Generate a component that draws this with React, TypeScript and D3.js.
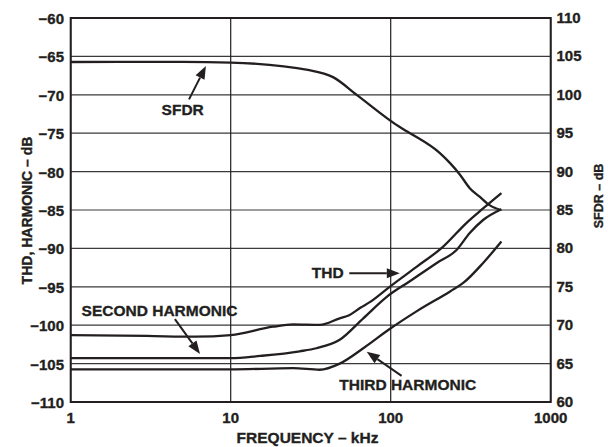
import React, { useEffect, useRef } from 'react';
import * as d3 from 'd3';

// frequency (kHz) vs dB
const thd: [number, number][] = [
  [1, -101.3], [3, -101.4], [6, -101.5], [10, -101.3], [18.4, -100.2], [24.5, -99.9],
  [36, -99.97], [48, -99.1], [55, -98.7], [65, -97.7], [74, -97.0], [98.5, -95.0],
  [145, -92.4], [212, -89.8], [297, -86.7], [378, -84.8], [492, -82.8],
];
const secondHarmonic: [number, number][] = [
  [1, -104.3], [10, -104.3], [15.3, -104.0], [27, -103.4], [34.3, -103.0], [48, -101.9],
  [67.4, -99.1], [94.5, -96.3], [131, -94.3], [194, -91.9], [258, -90.2], [312, -88.0],
  [378, -86.3], [492, -84.9],
];
const thirdHarmonic: [number, number][] = [
  [1, -105.75], [10, -105.75], [24.5, -105.6], [36, -105.8], [48, -105.0], [67.4, -103.0],
  [98.5, -100.5], [145, -98.2], [235, -95.6], [284, -94.5], [378, -91.9], [492, -89.1],
];
// SFDR is read on the right axis
const sfdr: [number, number][] = [
  [1, 104.27], [5, 104.3], [10, 104.2], [31, 103.2], [43.6, 102.3], [61.3, 100.0],
  [114, 95.8], [132, 95.0], [203, 92.4], [235, 91.1], [271, 89.6], [313, 87.8],
  [361, 86.7], [417, 85.6], [490, 85.0],
];

const xTicks = [1, 10, 100, 1000];
const leftTicks = d3.range(-110, -59, 5);
const rightTicks = d3.range(60, 111, 5);

// annotation labels: text, anchor point (kHz, dB left axis), arrow from/to
const labels = [
  { text: 'SFDR', at: [3.7, -72.6], from: [5.49, -70.6], to: [7.0, -66.25] },
  { text: 'SECOND HARMONIC', at: [1.17, -98.8], from: [4.48, -99.2], to: [6.43, -103.75] },
  { text: 'THD', at: [32.1, -93.9], from: [55.1, -93.24], to: [114, -93.24] },
  { text: 'THIRD HARMONIC', at: [47.7, -108.5], from: [117, -106.6], to: [70.8, -103.45] },
];

const FONT = '"Liberation Sans", Arial, Helvetica, sans-serif';
const INK = '#231f20';

export default function App() {
  const svgRef = useRef<SVGSVGElement>(null);

  useEffect(() => {
    if (!svgRef.current) return;
    const svg = d3.select(svgRef.current);
    svg.selectAll('*').remove();

    const x = d3.scaleLog().domain([1, 1000]).range([70.7, 550.7]);
    const yL = d3.scaleLinear().domain([-110, -60]).range([402, 18]);
    const yR = d3.scaleLinear().domain([60, 110]).range([402, 18]);

    const g = svg.append('g');

    const txt = (sel: d3.Selection<SVGTextElement, any, any, any>, size: number) =>
      sel
        .style('font', `bold ${size}px ${FONT}`)
        .style('fill', INK)
        .style('stroke', INK)
        .style('stroke-width', 0.35);

    // grid
    g.selectAll('.hgrid')
      .data(leftTicks)
      .enter()
      .append('line')
      .attr('x1', x(1)).attr('x2', x(1000))
      .attr('y1', d => yL(d)).attr('y2', d => yL(d))
      .attr('stroke', '#3a3a3a').attr('stroke-width', 1.2);

    g.selectAll('.vgrid')
      .data(xTicks)
      .enter()
      .append('line')
      .attr('x1', d => x(d)).attr('x2', d => x(d))
      .attr('y1', yL(-60)).attr('y2', yL(-110))
      .attr('stroke', INK).attr('stroke-width', 1.2);

    // frame
    g.append('rect')
      .attr('x', x(1)).attr('y', yL(-60))
      .attr('width', x(1000) - x(1)).attr('height', yL(-110) - yL(-60))
      .attr('fill', 'none').attr('stroke', INK).attr('stroke-width', 2);

    const lineL = d3.line<[number, number]>()
      .x(d => x(d[0])).y(d => yL(d[1]))
      .curve(d3.curveMonotoneX);
    const lineR = d3.line<[number, number]>()
      .x(d => x(d[0])).y(d => yR(d[1]))
      .curve(d3.curveMonotoneX);

    [thd, secondHarmonic, thirdHarmonic].forEach(s => {
      g.append('path')
        .attr('d', lineL(s))
        .attr('fill', 'none').attr('stroke', INK).attr('stroke-width', 2.3);
    });
    g.append('path')
      .attr('d', lineR(sfdr))
      .attr('fill', 'none').attr('stroke', INK).attr('stroke-width', 2.3);

    // tick labels
    txt(g.selectAll('.lt')
      .data(leftTicks)
      .enter()
      .append('text')
      .attr('x', 64).attr('y', d => yL(d) + 6)
      .attr('text-anchor', 'end')
      .text(d => `\u2212${Math.abs(d)}`), 15);

    txt(g.selectAll('.rt')
      .data(rightTicks)
      .enter()
      .append('text')
      .attr('x', 556.5).attr('y', d => yR(d) + 5)
      .text(d => d), 15);

    txt(g.selectAll('.xt')
      .data(xTicks)
      .enter()
      .append('text')
      .attr('x', d => x(d)).attr('y', 423)
      .attr('text-anchor', 'middle')
      .text(d => d), 15);

    // axis titles
    txt(g.append('text')
      .attr('x', 307.5).attr('y', 442.5)
      .attr('text-anchor', 'middle')
      .text('FREQUENCY \u2013 kHz'), 15.5);

    txt(g.append('text')
      .attr('transform', 'translate(31.5,210.5) rotate(-90)')
      .attr('text-anchor', 'middle')
      .text('THD, HARMONIC \u2013 dB'), 14);

    txt(g.append('text')
      .attr('transform', 'translate(603,196) rotate(-90)')
      .attr('text-anchor', 'middle')
      .text('SFDR \u2013 dB'), 12.5);

    // annotations
    labels.forEach(l => {
      txt(g.append('text')
        .attr('x', x(l.at[0])).attr('y', yL(l.at[1]))
        .text(l.text), 15.5);

      const x1 = x(l.from[0]), y1 = yL(l.from[1]);
      const x2 = x(l.to[0]), y2 = yL(l.to[1]);
      const ang = Math.atan2(y2 - y1, x2 - x1);
      const head = 13, half = 5;
      const bx = x2 - head * Math.cos(ang), by = y2 - head * Math.sin(ang);
      g.append('line')
        .attr('x1', x1).attr('y1', y1).attr('x2', bx).attr('y2', by)
        .attr('stroke', INK).attr('stroke-width', 2);
      const px = -Math.sin(ang) * half, py = Math.cos(ang) * half;
      g.append('path')
        .attr('d', `M${x2},${y2}L${bx + px},${by + py}L${bx - px},${by - py}Z`)
        .attr('fill', INK);
    });
  }, []);

  return (
    <svg
      ref={svgRef}
      width={608}
      height={447}
      style={{ position: 'absolute', left: 0, top: 0, background: '#fff' }}
    />
  );
}
